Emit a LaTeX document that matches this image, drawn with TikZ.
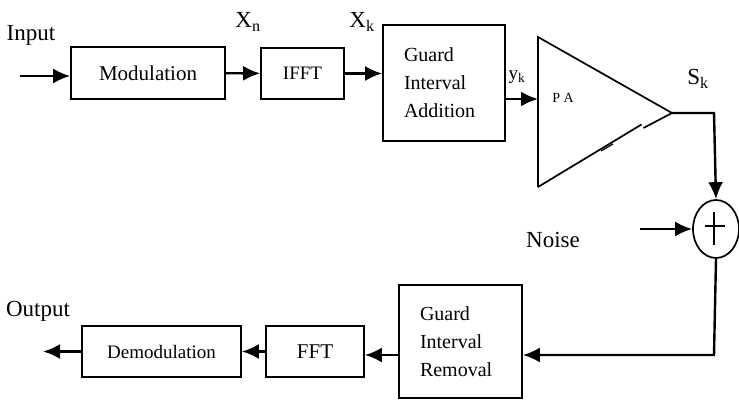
\documentclass[tikz,border=0pt]{standalone}
\usepackage{fontspec}
\setmainfont{Liberation Serif}
\usetikzlibrary{arrows.meta,shapes.geometric}

\tikzset{
  blk/.style={draw, line width=1.7pt, inner sep=0pt, font=\fontsize{20}{28}\selectfont},
  lbl/.style={inner sep=0pt, font=\fontsize{23}{27}\selectfont},
  sig/.style={line width=2.4pt, ->},
}

\begin{document}
\begin{tikzpicture}[x=1pt,y=-1pt,>={Latex[length=17pt,width=15pt]}]
\useasboundingbox (0,0) rectangle (739,401);

% transmitter chain
\node[blk, minimum width=154pt, minimum height=52pt, font=\fontsize{21}{25}\selectfont] (mod) at (148,73) {Modulation};
\node[blk, minimum width=83pt, minimum height=51pt, font=\fontsize{19}{23}\selectfont] (ifft) at (302.5,73.5) {IFFT};
\node[blk, minimum width=122pt, minimum height=116pt, text width=80pt, align=left] (gia) at (444,83) {Guard\\Interval\\Addition};

% power amplifier
\coordinate (patop) at (538,37);
\coordinate (pabot) at (538,187);
\coordinate (paout) at (672,113);
\coordinate (pain) at (538,99);
\draw[line width=1.7pt] (pabot) -- (patop) -- (paout);
\draw[line width=1.7pt] (pabot) -- (641.5,124.5);
\draw[line width=1.7pt] (643.5,128) -- (paout);
\draw[line width=1.2pt] (601,151) -- (613,144);
\node[inner sep=0pt, font=\fontsize{14}{16}\selectfont] (pa) at (563,98) {P A};

% channel
\node[draw, ellipse, line width=1.7pt, minimum width=46pt, minimum height=58pt, inner sep=0pt] (sum) at (716,229) {};
\draw[line width=1.7pt] (714,212) -- (714,245);
\draw[line width=1.7pt] (705,226) -- (725,226);

% receiver chain
\node[blk, minimum width=123pt, minimum height=113pt, text width=81pt, align=left] (gir) at (460.5,341.5) {Guard\\Interval\\Removal};
\node[blk, minimum width=98pt, minimum height=51pt, font=\fontsize{21}{25}\selectfont] (fft) at (315,351.5) {FFT};
\node[blk, minimum width=159pt, minimum height=51pt, font=\fontsize{19}{23}\selectfont] (demod) at (161.5,351.5) {Demodulation};

% labels
\node[lbl] (input) at (31,35) {Input};
\node[lbl] (xn) at (248,22) {X\textsubscript{n}};
\node[lbl] (xk) at (362,22) {X\textsubscript{k}};
\node[lbl, font=\fontsize{19}{23}\selectfont] (yk) at (517,77) {y\textsubscript{k}};
\node[lbl] (sk) at (698,79) {S\textsubscript{k}};
\node[lbl] (noise) at (553,240) {Noise};
\node[lbl] (output) at (38,311) {Output};

% connectors
\coordinate (in) at (20,76);
\coordinate (skc) at (714,113);
\coordinate (nz) at (640,229);
\coordinate (ret) at (714,355);
\coordinate (out) at (43,351.5);
\draw[sig] (in) -- (mod.west |- in);
\draw[sig] (mod) -- (ifft);
\draw[sig] (ifft.east) -- (gia.west |- ifft.east);
\draw[sig] (gia.east |- pain) -- (pain);
\draw[sig] (paout) -- (skc) -- (sum.north);
\draw[sig] (nz) -- (sum.west);
\draw[sig] (sum.south) -- (ret) -- (gir.east |- ret);
\draw[sig] (gir.west |- ret) -- (fft.east |- ret);
\draw[sig] (fft) -- (demod);
\draw[sig] (demod.west) -- (out);

\end{tikzpicture}
\end{document}
